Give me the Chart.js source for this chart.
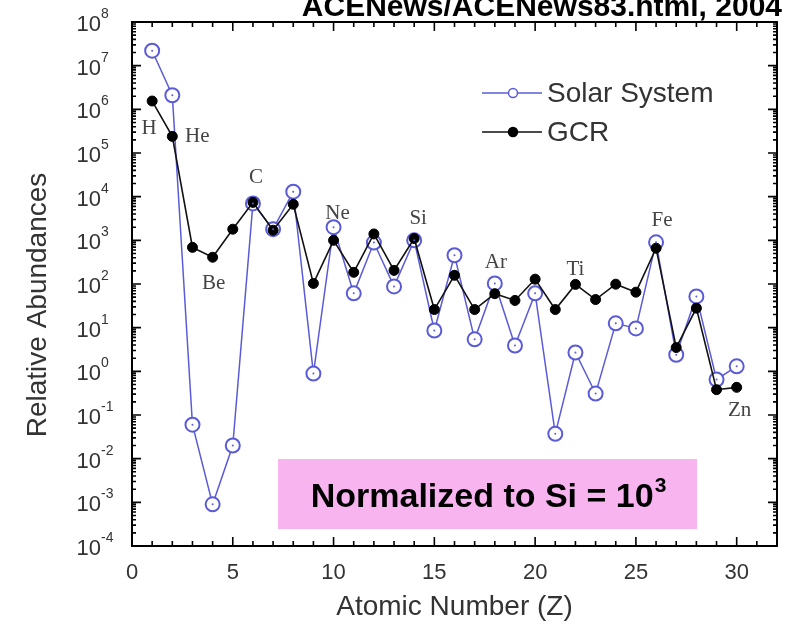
<!DOCTYPE html>
<html>
<head>
<meta charset="utf-8">
<script src="https://cdn.jsdelivr.net/npm/chart.js@4/dist/chart.umd.min.js"></script>
<style>
	body { margin: 0; background: #fff; }
	canvas { display: block; }
</style>
</head>
<body>
<canvas id="myChart" width="787" height="624"></canvas>
<script>
// atomic number Z of each point
const atomicNumbers = [1, 2, 3, 4, 5, 6, 7, 8, 9, 10, 11, 12, 13, 14, 15, 16, 17, 18, 19, 20, 21, 22, 23, 24, 25, 26, 27, 28, 29, 30];
// relative abundances, normalized to Si = 10^3
const solarSystem = [2.2e7, 2.1e6, 0.06, 9e-4, 0.02, 7e3, 1.8e3, 1.3e4, 0.89, 2e3, 61, 890, 88, 1e3, 8.6, 455, 5.4, 103, 3.9, 61, 0.037, 2.7, 0.31, 12.6, 9.6, 900, 2.4, 52, 0.65, 1.3];
const gcr = [1.55e6, 2.4e5, 690, 410, 1.8e3, 7.4e3, 1.7e3, 6.7e3, 103, 1e3, 185, 1.4e3, 205, 1.1e3, 26, 158, 26, 60, 42, 129, 26, 98, 44, 99, 65, 660, 3.5, 28, 0.38, 0.43];
// element names written next to the points
const elementNames = ["H", "He", "Be", "C", "Ne", "Si", "Ar", "Ti", "Fe", "Zn"];
const elementZ = [1, 2, 4, 6, 10, 14, 18, 22, 26, 30];
// y tick exponents (10^n)
const yExponents = [-4, -3, -2, -1, 0, 1, 2, 3, 4, 5, 6, 7, 8];
const xTickValues = [0, 5, 10, 15, 20, 25, 30];

const SANS = "'Liberation Sans', Arial, sans-serif";
const SERIF = "'Liberation Serif', 'Times New Roman', serif";
const BLUE = "#5b5bd8";

// label offsets from the GCR point, in px
const labelOffsets = {
	H: [-3, 27], He: [25, 0], Be: [1, 26], C: [3, -25], Ne: [4, -27],
	Si: [4, -20], Ar: [1, -31], Ti: [0, -15], Fe: [6, -28], Zn: [3, 23],
};

const framePlugin = {
	id: "frame",
	afterDraw(chart) {
		const c = chart.ctx;
		const a = chart.chartArea;
		const xs = chart.scales.x;
		const ys = chart.scales.y;
		c.save();

		// page title, cut at the top edge
		c.fillStyle = "#000";
		c.font = "bold 30px " + SANS;
		c.textAlign = "right";
		c.textBaseline = "alphabetic";
		c.fillText("ACENews/ACENews83.html, 2004", 782, 16);

		// frame and inward ticks
		c.strokeStyle = "#000";
		c.lineWidth = 2;
		c.strokeRect(a.left, a.top, a.right - a.left, a.bottom - a.top);
		c.lineWidth = 1.6;
		c.beginPath();
		for (let v = 0; v <= 32; v++) {
			const px = xs.getPixelForValue(v);
			const len = v % 5 === 0 ? 9 : 5;
			c.moveTo(px, a.bottom); c.lineTo(px, a.bottom - len);
			c.moveTo(px, a.top); c.lineTo(px, a.top + len);
		}
		yExponents.forEach((e) => {
			for (let m = 1; m <= 9; m++) {
				if (e === 8 && m > 1) break;
				const py = ys.getPixelForValue(m * Math.pow(10, e));
				const len = m === 1 ? 9 : 4;
				c.moveTo(a.left, py); c.lineTo(a.left + len, py);
				c.moveTo(a.right, py); c.lineTo(a.right - len, py);
			}
		});
		c.stroke();

		// y tick labels 10^n
		c.fillStyle = "#333";
		c.textBaseline = "middle";
		yExponents.forEach((e) => {
			const py = ys.getPixelForValue(Math.pow(10, e));
			c.font = "14px " + SANS;
			c.textAlign = "left";
			c.fillText(String(e), 101, py - 8);
			c.font = "22px " + SANS;
			c.textAlign = "right";
			c.fillText("10", 101, py + 3);
		});

		// y axis title
		c.save();
		c.translate(38, 305);
		c.rotate(-Math.PI / 2);
		c.textAlign = "center";
		c.textBaseline = "middle";
		c.font = "28px " + SANS;
		c.fillStyle = "#333";
		c.fillText("Relative Abundances", 0, 0);
		c.restore();

		// element labels
		const gcrMeta = chart.getDatasetMeta(1);
		c.font = "21px " + SERIF;
		c.fillStyle = "#444";
		c.textAlign = "center";
		c.textBaseline = "middle";
		elementNames.forEach((name, i) => {
			const pt = gcrMeta.data[atomicNumbers.indexOf(elementZ[i])];
			const off = labelOffsets[name];
			c.fillText(name, pt.x + off[0], pt.y + off[1]);
		});

		// small dots in the open circles
		const solarMeta = chart.getDatasetMeta(0);
		c.fillStyle = BLUE;
		solarMeta.data.forEach((pt) => {
			c.beginPath();
			c.arc(pt.x, pt.y, 1, 0, Math.PI * 2);
			c.fill();
		});

		// legend
		const legendRows = [
			{ ds: chart.data.datasets[0], y: 93 },
			{ ds: chart.data.datasets[1], y: 132 },
		];
		legendRows.forEach((row) => {
			c.strokeStyle = row.ds.borderColor;
			c.lineWidth = 1.5;
			c.beginPath();
			c.moveTo(482, row.y); c.lineTo(542, row.y);
			c.stroke();
			c.beginPath();
			c.arc(513, row.y, 4.5, 0, Math.PI * 2);
			c.fillStyle = row.ds.pointBackgroundColor;
			c.fill();
			c.lineWidth = 1.5;
			c.strokeStyle = row.ds.pointBorderColor;
			c.stroke();
			c.fillStyle = "#333";
			c.font = "28px " + SANS;
			c.textAlign = "left";
			c.textBaseline = "middle";
			c.fillText(row.ds.label, 547, row.y + 1);
		});

		// normalization note
		c.fillStyle = "#f7b4ef";
		c.fillRect(278, 459, 419, 70);
		c.fillStyle = "#000";
		c.font = "bold 34px " + SANS;
		c.textAlign = "left";
		c.textBaseline = "alphabetic";
		const main = "Normalized to Si = 10";
		const w = c.measureText(main).width;
		c.font = "bold 21px " + SANS;
		const w2 = c.measureText("3").width;
		const x0 = 488 - (w + w2) / 2;
		c.font = "bold 34px " + SANS;
		c.fillText(main, x0, 507);
		c.font = "bold 21px " + SANS;
		c.fillText("3", x0 + w + 1, 492);

		c.restore();
	},
};

const ctx = document.getElementById("myChart");
const chart = new Chart(ctx, {
	type: "line",
	data: {
		datasets: [
			{
				label: "Solar System",
				data: atomicNumbers.map((z, i) => ({ x: z, y: solarSystem[i] })),
				borderColor: BLUE,
				borderWidth: 1.5,
				pointBackgroundColor: "#fff",
				pointBorderColor: BLUE,
				pointBorderWidth: 2,
				pointRadius: 7,
				order: 1,
			},
			{
				label: "GCR",
				data: atomicNumbers.map((z, i) => ({ x: z, y: gcr[i] })),
				borderColor: "#111",
				borderWidth: 1.6,
				pointBackgroundColor: "#000",
				pointBorderColor: "#000",
				pointBorderWidth: 1,
				pointRadius: 5,
				order: 0,
			},
		],
	},
	options: {
		responsive: false,
		animation: false,
		layout: { padding: { left: 0, right: 10, top: 22, bottom: 0 } },
		plugins: { legend: { display: false }, tooltip: { enabled: false } },
		scales: {
			x: {
				type: "linear",
				min: 0,
				max: 32,
				grid: { display: false, drawTicks: false },
				border: { display: false },
				afterBuildTicks: (s) => { s.ticks = xTickValues.map((v) => ({ value: v })); },
				ticks: { color: "#333", font: { family: SANS, size: 22 }, padding: 14, maxRotation: 0, autoSkip: false },
				title: { display: true, text: "Atomic Number (Z)", color: "#333", font: { family: SANS, size: 28 }, padding: 0 },
				afterFit: (s) => { s.height = 78; },
			},
			y: {
				type: "logarithmic",
				min: 1e-4,
				max: 1e8,
				grid: { display: false, drawTicks: false },
				border: { display: false },
				ticks: { display: false },
				afterFit: (s) => { s.width = 132; },
			},
		},
	},
	plugins: [framePlugin],
});
</script>
</body>
</html>
